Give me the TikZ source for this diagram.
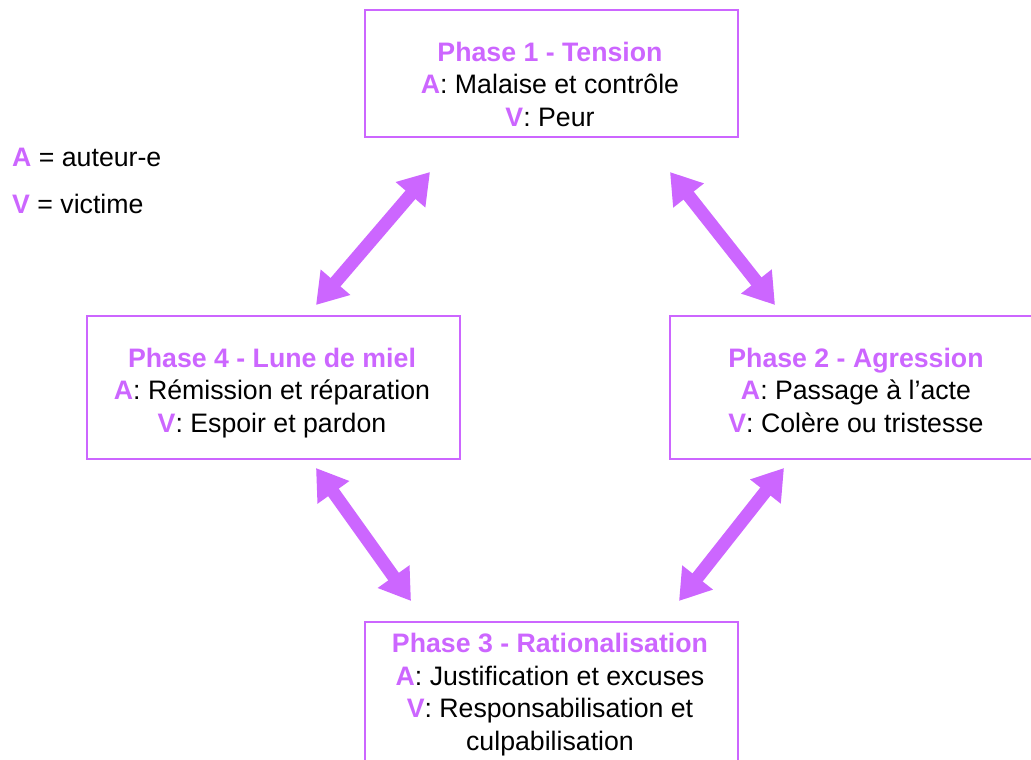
\documentclass[tikz,border=0pt]{standalone}
\usepackage{fontspec}
\setmainfont{Liberation Sans}
\usetikzlibrary{arrows.meta}
\definecolor{violetc}{RGB}{204,102,255}
\tikzset{
  phasebox/.style={draw=violetc, line width=2pt, inner sep=0pt, anchor=north west},
  phasetext/.style={align=center, inner sep=0pt, font=\fontsize{26.7}{32.5}\selectfont},
  legendtext/.style={anchor=west, inner sep=0pt, font=\fontsize{26.7}{32}\selectfont},
  cyclearrow/.style={draw=violetc, line width=13pt,
    {Triangle[length=30pt,width=37pt]}-{Triangle[length=30pt,width=37pt]}}
}
\newcommand{\ttl}[1]{\textcolor{violetc}{\textbf{#1}}}
\begin{document}
\begin{tikzpicture}[x=1pt,y=-1pt]
\useasboundingbox (0,0) rectangle (1031,760);
% boxes
\node[phasebox, minimum width=373pt, minimum height=127pt] (b1) at (364,9) {};
\node[phasebox, minimum width=373pt, minimum height=143pt] (b4) at (86,315) {};
\node[phasebox, minimum width=380pt, minimum height=143pt] (b2) at (669,315) {};
\node[phasebox, minimum width=373pt, minimum height=160pt] (b3) at (364,621) {};
% texts
\node[phasetext] (t1) at (550,87) {\strut\ttl{Phase 1 - Tension}\\\ttl{A}: Malaise et contrôle\\\ttl{V}: Peur\strut};
\node[phasetext] (t4) at (272,393) {\strut\ttl{Phase 4 - Lune de miel}\\\ttl{A}: Rémission et réparation\\\ttl{V}: Espoir et pardon\strut};
\node[phasetext] (t2) at (856,393) {\strut\ttl{Phase 2 - Agression}\\\ttl{A}: Passage à l’acte\\\ttl{V}: Colère ou tristesse\strut};
\node[phasetext] (t3) at (550,695) {\strut\ttl{Phase 3 - Rationalisation}\\\ttl{A}: Justification et excuses\\\ttl{V}: Responsabilisation et\\culpabilisation\strut};
% legend
\node[legendtext] (la) at (12,157) {\ttl{A} = auteur-e};
\node[legendtext] (lv) at (12,204) {\ttl{V} = victime};
% arrow ends
\coordinate (a1s) at (430,172);
\coordinate (a1e) at (316,305);
\coordinate (a2s) at (670,172);
\coordinate (a2e) at (775,305);
\coordinate (a3s) at (316,468);
\coordinate (a3e) at (411,601);
\coordinate (a4s) at (784,468);
\coordinate (a4e) at (679,601);
\draw[cyclearrow] (a1s) -- (a1e);
\draw[cyclearrow] (a2s) -- (a2e);
\draw[cyclearrow] (a3s) -- (a3e);
\draw[cyclearrow] (a4s) -- (a4e);
\end{tikzpicture}
\end{document}
